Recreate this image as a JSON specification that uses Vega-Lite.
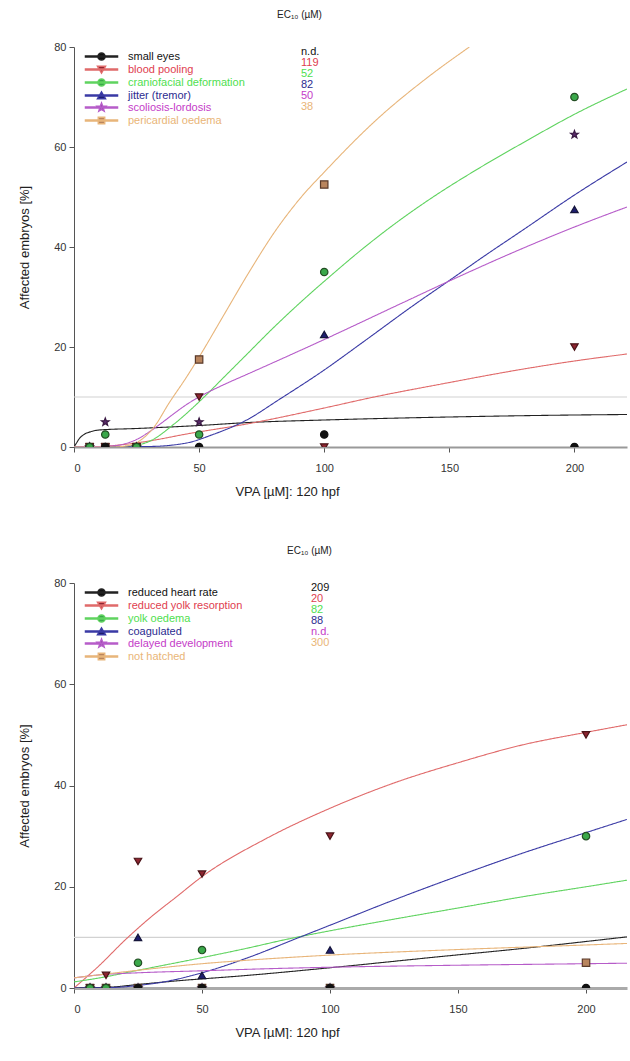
{
  "$schema": "https://vega.github.io/schema/vega-lite/v6.json",
  "background": "white",
  "padding": {"left": 18, "top": 10, "right": 0, "bottom": 0},
  "spacing": 48,
  "resolve": {
    "scale": {"color": "independent", "fill": "independent", "stroke": "independent", "strokeDash": "independent", "x": "independent", "y": "independent"},
    "legend": {"color": "independent", "strokeDash": "independent", "fill": "independent", "stroke": "independent"}
  },
  "config": {
    "font": "Liberation Sans",
    "view": {"stroke": null},
    "axis": {
      "grid": false,
      "labelFont": "Liberation Sans",
      "labelFontSize": 11,
      "labelColor": "#333333",
      "titleFont": "Liberation Sans",
      "titleFontSize": 13,
      "titleFontWeight": "normal",
      "titleColor": "#222222",
      "domainColor": "#555555",
      "tickColor": "#555555",
      "tickSize": 5
    },
    "legend": {
      "labelFont": "Liberation Sans",
      "labelFontSize": 11,
      "titleFont": "Liberation Sans",
      "titleFontSize": 10,
      "titleFontWeight": "normal",
      "titleColor": "#222222",
      "rowPadding": -2,
      "padding": 0
    }
  },
  "datasets": {
    "tmeta": [
      {"s": "small eyes", "ec": "n.d."},
      {"s": "blood pooling", "ec": "119"},
      {"s": "craniofacial deformation", "ec": "52"},
      {"s": "jitter (tremor)", "ec": "82"},
      {"s": "scoliosis-lordosis", "ec": "50"},
      {"s": "pericardial oedema", "ec": "38"}
    ],
    "bmeta": [
      {"s": "reduced heart rate", "ec": "209"},
      {"s": "reduced yolk resorption", "ec": "20"},
      {"s": "yolk oedema", "ec": "82"},
      {"s": "coagulated", "ec": "88"},
      {"s": "delayed development", "ec": "n.d."},
      {"s": "not hatched", "ec": "300"}
    ],
    "tfit": [
      {"s": "small eyes", "x": 0, "y": 0}, {"s": "small eyes", "x": 1, "y": 0.8}, {"s": "small eyes", "x": 2, "y": 1.6}, {"s": "small eyes", "x": 4, "y": 2.5}, {"s": "small eyes", "x": 7, "y": 3.1}, {"s": "small eyes", "x": 10, "y": 3.4}, {"s": "small eyes", "x": 25, "y": 3.7}, {"s": "small eyes", "x": 50, "y": 4.3}, {"s": "small eyes", "x": 70, "y": 4.9}, {"s": "small eyes", "x": 100, "y": 5.4}, {"s": "small eyes", "x": 150, "y": 6}, {"s": "small eyes", "x": 200, "y": 6.4}, {"s": "small eyes", "x": 221, "y": 6.5},
      {"s": "blood pooling", "x": 0, "y": 0}, {"s": "blood pooling", "x": 10, "y": 0.1}, {"s": "blood pooling", "x": 20, "y": 0.5}, {"s": "blood pooling", "x": 30, "y": 1.2}, {"s": "blood pooling", "x": 45, "y": 2.6}, {"s": "blood pooling", "x": 69, "y": 4.6}, {"s": "blood pooling", "x": 100, "y": 7.8}, {"s": "blood pooling", "x": 119, "y": 9.9}, {"s": "blood pooling", "x": 149, "y": 12.8}, {"s": "blood pooling", "x": 175, "y": 15.2}, {"s": "blood pooling", "x": 200, "y": 17.2}, {"s": "blood pooling", "x": 221, "y": 18.6},
      {"s": "craniofacial deformation", "x": 0, "y": 0}, {"s": "craniofacial deformation", "x": 15, "y": 0}, {"s": "craniofacial deformation", "x": 25, "y": 0.4}, {"s": "craniofacial deformation", "x": 30, "y": 1.1}, {"s": "craniofacial deformation", "x": 40, "y": 4.6}, {"s": "craniofacial deformation", "x": 52, "y": 10}, {"s": "craniofacial deformation", "x": 60, "y": 14}, {"s": "craniofacial deformation", "x": 69, "y": 18.5}, {"s": "craniofacial deformation", "x": 80, "y": 24}, {"s": "craniofacial deformation", "x": 94, "y": 30.5}, {"s": "craniofacial deformation", "x": 102, "y": 34}, {"s": "craniofacial deformation", "x": 115, "y": 39.5}, {"s": "craniofacial deformation", "x": 130, "y": 45.3}, {"s": "craniofacial deformation", "x": 145, "y": 50.5}, {"s": "craniofacial deformation", "x": 161, "y": 55.5}, {"s": "craniofacial deformation", "x": 180, "y": 61}, {"s": "craniofacial deformation", "x": 201, "y": 66.8}, {"s": "craniofacial deformation", "x": 221, "y": 71.6},
      {"s": "jitter (tremor)", "x": 0, "y": 0}, {"s": "jitter (tremor)", "x": 30, "y": 0.1}, {"s": "jitter (tremor)", "x": 45, "y": 0.8}, {"s": "jitter (tremor)", "x": 55, "y": 2.4}, {"s": "jitter (tremor)", "x": 69, "y": 5.4}, {"s": "jitter (tremor)", "x": 82, "y": 9.5}, {"s": "jitter (tremor)", "x": 100, "y": 15.4}, {"s": "jitter (tremor)", "x": 115, "y": 20.8}, {"s": "jitter (tremor)", "x": 137, "y": 28.8}, {"s": "jitter (tremor)", "x": 150, "y": 33.3}, {"s": "jitter (tremor)", "x": 164, "y": 38.2}, {"s": "jitter (tremor)", "x": 180, "y": 43.6}, {"s": "jitter (tremor)", "x": 200, "y": 50.4}, {"s": "jitter (tremor)", "x": 221, "y": 57},
      {"s": "scoliosis-lordosis", "x": 0, "y": 0}, {"s": "scoliosis-lordosis", "x": 15, "y": 0.2}, {"s": "scoliosis-lordosis", "x": 20, "y": 0.6}, {"s": "scoliosis-lordosis", "x": 25, "y": 1.5}, {"s": "scoliosis-lordosis", "x": 30, "y": 3}, {"s": "scoliosis-lordosis", "x": 35, "y": 4.8}, {"s": "scoliosis-lordosis", "x": 40, "y": 6.7}, {"s": "scoliosis-lordosis", "x": 45, "y": 8.5}, {"s": "scoliosis-lordosis", "x": 50, "y": 10}, {"s": "scoliosis-lordosis", "x": 60, "y": 12.5}, {"s": "scoliosis-lordosis", "x": 69, "y": 14.5}, {"s": "scoliosis-lordosis", "x": 100, "y": 21.5}, {"s": "scoliosis-lordosis", "x": 132, "y": 29}, {"s": "scoliosis-lordosis", "x": 150, "y": 33.2}, {"s": "scoliosis-lordosis", "x": 175, "y": 38.8}, {"s": "scoliosis-lordosis", "x": 200, "y": 44}, {"s": "scoliosis-lordosis", "x": 221, "y": 48},
      {"s": "pericardial oedema", "x": 0, "y": 0}, {"s": "pericardial oedema", "x": 15, "y": 0}, {"s": "pericardial oedema", "x": 22, "y": 0.3}, {"s": "pericardial oedema", "x": 27, "y": 1.5}, {"s": "pericardial oedema", "x": 32, "y": 4}, {"s": "pericardial oedema", "x": 38, "y": 8.8}, {"s": "pericardial oedema", "x": 45, "y": 14}, {"s": "pericardial oedema", "x": 50, "y": 18}, {"s": "pericardial oedema", "x": 60, "y": 26.5}, {"s": "pericardial oedema", "x": 70, "y": 35}, {"s": "pericardial oedema", "x": 81, "y": 43.6}, {"s": "pericardial oedema", "x": 90, "y": 49.5}, {"s": "pericardial oedema", "x": 101, "y": 55.5}, {"s": "pericardial oedema", "x": 121, "y": 65.5}, {"s": "pericardial oedema", "x": 141, "y": 73.8}, {"s": "pericardial oedema", "x": 158, "y": 80}
    ],
    "tpts": [
      {"p": "small eyes", "x": 6.25, "y": 0}, {"p": "small eyes", "x": 12.5, "y": 0}, {"p": "small eyes", "x": 25, "y": 0}, {"p": "small eyes", "x": 50, "y": 0}, {"p": "small eyes", "x": 100, "y": 2.5}, {"p": "small eyes", "x": 200, "y": 0},
      {"p": "pericardial oedema", "x": 6.25, "y": 0}, {"p": "pericardial oedema", "x": 12.5, "y": 0}, {"p": "pericardial oedema", "x": 25, "y": 0}, {"p": "pericardial oedema", "x": 50, "y": 17.5}, {"p": "pericardial oedema", "x": 100, "y": 52.5},
      {"p": "jitter (tremor)", "x": 6.25, "y": 0}, {"p": "jitter (tremor)", "x": 12.5, "y": 0}, {"p": "jitter (tremor)", "x": 25, "y": 0}, {"p": "jitter (tremor)", "x": 50, "y": 0}, {"p": "jitter (tremor)", "x": 100, "y": 22.5}, {"p": "jitter (tremor)", "x": 200, "y": 47.5},
      {"p": "scoliosis-lordosis", "x": 6.25, "y": 0}, {"p": "scoliosis-lordosis", "x": 12.5, "y": 5}, {"p": "scoliosis-lordosis", "x": 25, "y": 0}, {"p": "scoliosis-lordosis", "x": 50, "y": 5}, {"p": "scoliosis-lordosis", "x": 200, "y": 62.5},
      {"p": "blood pooling", "x": 6.25, "y": 0}, {"p": "blood pooling", "x": 12.5, "y": 0}, {"p": "blood pooling", "x": 25, "y": 0}, {"p": "blood pooling", "x": 50, "y": 10}, {"p": "blood pooling", "x": 100, "y": 0}, {"p": "blood pooling", "x": 200, "y": 20},
      {"p": "craniofacial deformation", "x": 6.25, "y": 0}, {"p": "craniofacial deformation", "x": 12.5, "y": 2.5}, {"p": "craniofacial deformation", "x": 25, "y": 0}, {"p": "craniofacial deformation", "x": 50, "y": 2.5}, {"p": "craniofacial deformation", "x": 100, "y": 35}, {"p": "craniofacial deformation", "x": 200, "y": 70}
    ],
    "bfit": [
      {"s": "reduced heart rate", "x": 0, "y": 0}, {"s": "reduced heart rate", "x": 15, "y": 0.2}, {"s": "reduced heart rate", "x": 25, "y": 0.7}, {"s": "reduced heart rate", "x": 40, "y": 1.4}, {"s": "reduced heart rate", "x": 68, "y": 2.5}, {"s": "reduced heart rate", "x": 100, "y": 4}, {"s": "reduced heart rate", "x": 143, "y": 6.2}, {"s": "reduced heart rate", "x": 175, "y": 7.8}, {"s": "reduced heart rate", "x": 209, "y": 9.7}, {"s": "reduced heart rate", "x": 216, "y": 10.1},
      {"s": "reduced yolk resorption", "x": 0, "y": 0}, {"s": "reduced yolk resorption", "x": 10, "y": 4.5}, {"s": "reduced yolk resorption", "x": 20, "y": 9.5}, {"s": "reduced yolk resorption", "x": 30, "y": 14}, {"s": "reduced yolk resorption", "x": 40, "y": 18}, {"s": "reduced yolk resorption", "x": 50, "y": 22}, {"s": "reduced yolk resorption", "x": 75, "y": 29.5}, {"s": "reduced yolk resorption", "x": 100, "y": 35.5}, {"s": "reduced yolk resorption", "x": 125, "y": 40.5}, {"s": "reduced yolk resorption", "x": 150, "y": 44.5}, {"s": "reduced yolk resorption", "x": 175, "y": 48}, {"s": "reduced yolk resorption", "x": 200, "y": 50.5}, {"s": "reduced yolk resorption", "x": 216, "y": 52},
      {"s": "yolk oedema", "x": 0, "y": 1.2}, {"s": "yolk oedema", "x": 10, "y": 2}, {"s": "yolk oedema", "x": 25, "y": 3.5}, {"s": "yolk oedema", "x": 50, "y": 6}, {"s": "yolk oedema", "x": 68, "y": 7.9}, {"s": "yolk oedema", "x": 82, "y": 9.5}, {"s": "yolk oedema", "x": 100, "y": 11.3}, {"s": "yolk oedema", "x": 125, "y": 13.6}, {"s": "yolk oedema", "x": 150, "y": 15.8}, {"s": "yolk oedema", "x": 175, "y": 18}, {"s": "yolk oedema", "x": 200, "y": 20}, {"s": "yolk oedema", "x": 216, "y": 21.3},
      {"s": "coagulated", "x": 0, "y": 0}, {"s": "coagulated", "x": 15, "y": 0.1}, {"s": "coagulated", "x": 25, "y": 0.5}, {"s": "coagulated", "x": 35, "y": 1.2}, {"s": "coagulated", "x": 50, "y": 3}, {"s": "coagulated", "x": 68, "y": 6}, {"s": "coagulated", "x": 88, "y": 10}, {"s": "coagulated", "x": 100, "y": 12.4}, {"s": "coagulated", "x": 125, "y": 17.4}, {"s": "coagulated", "x": 151, "y": 22.3}, {"s": "coagulated", "x": 175, "y": 26.6}, {"s": "coagulated", "x": 200, "y": 30.7}, {"s": "coagulated", "x": 216, "y": 33.3},
      {"s": "delayed development", "x": 0, "y": 2}, {"s": "delayed development", "x": 10, "y": 2.6}, {"s": "delayed development", "x": 25, "y": 3}, {"s": "delayed development", "x": 50, "y": 3.4}, {"s": "delayed development", "x": 75, "y": 3.8}, {"s": "delayed development", "x": 100, "y": 4.1}, {"s": "delayed development", "x": 150, "y": 4.5}, {"s": "delayed development", "x": 200, "y": 4.8}, {"s": "delayed development", "x": 216, "y": 4.9},
      {"s": "not hatched", "x": 0, "y": 2}, {"s": "not hatched", "x": 25, "y": 3.5}, {"s": "not hatched", "x": 50, "y": 4.8}, {"s": "not hatched", "x": 68, "y": 5.5}, {"s": "not hatched", "x": 100, "y": 6.5}, {"s": "not hatched", "x": 150, "y": 7.6}, {"s": "not hatched", "x": 200, "y": 8.5}, {"s": "not hatched", "x": 216, "y": 8.8}
    ],
    "bpts": [
      {"p": "reduced heart rate", "x": 6.25, "y": 0}, {"p": "reduced heart rate", "x": 12.5, "y": 0}, {"p": "reduced heart rate", "x": 25, "y": 0}, {"p": "reduced heart rate", "x": 50, "y": 0}, {"p": "reduced heart rate", "x": 100, "y": 0}, {"p": "reduced heart rate", "x": 200, "y": 0},
      {"p": "delayed development", "x": 6.25, "y": 0}, {"p": "delayed development", "x": 12.5, "y": 0}, {"p": "delayed development", "x": 25, "y": 0}, {"p": "delayed development", "x": 50, "y": 0}, {"p": "delayed development", "x": 100, "y": 0},
      {"p": "coagulated", "x": 6.25, "y": 0}, {"p": "coagulated", "x": 12.5, "y": 0}, {"p": "coagulated", "x": 25, "y": 10}, {"p": "coagulated", "x": 50, "y": 2.5}, {"p": "coagulated", "x": 100, "y": 7.5},
      {"p": "yolk oedema", "x": 6.25, "y": 0}, {"p": "yolk oedema", "x": 12.5, "y": 0}, {"p": "yolk oedema", "x": 25, "y": 5}, {"p": "yolk oedema", "x": 50, "y": 7.5}, {"p": "yolk oedema", "x": 200, "y": 30},
      {"p": "reduced yolk resorption", "x": 6.25, "y": 0}, {"p": "reduced yolk resorption", "x": 12.5, "y": 2.5}, {"p": "reduced yolk resorption", "x": 25, "y": 25}, {"p": "reduced yolk resorption", "x": 50, "y": 22.5}, {"p": "reduced yolk resorption", "x": 100, "y": 30}, {"p": "reduced yolk resorption", "x": 200, "y": 50},
      {"p": "not hatched", "x": 6.25, "y": 0}, {"p": "not hatched", "x": 12.5, "y": 0}, {"p": "not hatched", "x": 25, "y": 0}, {"p": "not hatched", "x": 50, "y": 0}, {"p": "not hatched", "x": 100, "y": 0}, {"p": "not hatched", "x": 200, "y": 5}
    ]
  },
  "vconcat": [
    {
      "width": 553,
      "height": 400,
      "layer": [
        {
          "data": {"values": [{"y": 10}]},
          "mark": {"type": "rule", "color": "#d2d2d2", "strokeWidth": 1.2},
          "encoding": {"y": {"field": "y", "type": "quantitative", "scale": {"domain": [0, 80], "nice": false}}}
        },
        {
          "data": {"name": "tfit"},
          "transform": [{"lookup": "s", "from": {"data": {"name": "tmeta"}, "key": "s", "fields": ["ec"]}}],
          "mark": {"type": "line", "interpolate": "monotone", "clip": true, "strokeWidth": 1.1},
          "encoding": {
            "x": {"field": "x", "type": "quantitative", "scale": {"domain": [0, 221], "nice": false},
                  "axis": {"values": [0, 50, 100, 150, 200], "title": "VPA [µM]: 120 hpf", "labelPadding": 10, "titlePadding": 12, "titleX": 213, "titleAlign": "center", "domainColor": "#999999", "domainWidth": 2}},
            "y": {"field": "y", "type": "quantitative", "scale": {"domain": [0, 80], "nice": false},
                  "axis": {"values": [0, 20, 40, 60, 80], "title": "Affected embryos [%]", "labelPadding": 3, "titlePadding": 22}},
            "color": {
              "field": "s", "type": "nominal",
              "scale": {"domain": ["small eyes", "blood pooling", "craniofacial deformation", "jitter (tremor)", "scoliosis-lordosis", "pericardial oedema"],
                        "range": ["#222222", "#e06a6a", "#5fd35f", "#3a3aa5", "#b65cc9", "#e8b57a"]},
              "legend": {
                "orient": "none", "legendX": 0, "legendY": 4, "title": null,
                "symbolSize": 64, "symbolOffset": 22, "labelOffset": 21,
                "encode": {
                  "symbols": {"update": {
                    "shape": {"signal": "['M-4,-0.14H4V0.14H-4ZM0.9,0A0.9,0.9,0,1,1,-0.9,0A0.9,0.9,0,1,1,0.9,0Z','M-4,-0.14H4V0.14H-4ZM-1,-0.8L1,-0.8L0,0.9Z','M-4,-0.14H4V0.14H-4ZM0.9,0A0.9,0.9,0,1,1,-0.9,0A0.9,0.9,0,1,1,0.9,0Z','M-4,-0.14H4V0.14H-4ZM1,0.8L-1,0.8L0,-0.9Z','M-4,-0.14H4V0.14H-4ZM0,-1.1L0.27,-0.37L1.05,-0.34L0.43,0.14L0.65,0.89L0,0.45L-0.65,0.89L-0.43,0.14L-1.05,-0.34L-0.27,-0.37Z','M-4,-0.14H4V0.14H-4ZM-0.8,-0.8H0.8V0.8H-0.8Z'][indexof(['small eyes','blood pooling','craniofacial deformation','jitter (tremor)','scoliosis-lordosis','pericardial oedema'], datum.value)]"},
                    "fill": {"signal": "['#222222','#e06a6a','#5fd35f','#3a3aa5','#b65cc9','#e8b57a'][indexof(['small eyes','blood pooling','craniofacial deformation','jitter (tremor)','scoliosis-lordosis','pericardial oedema'], datum.value)]"},
                    "opacity": {"value": 1}
                  }},
                  "labels": {"update": {
                    "fill": {"signal": "['#111111','#e0404f','#4fe04f','#2b2b8f','#c43cc8','#e9b577'][indexof(['small eyes','blood pooling','craniofacial deformation','jitter (tremor)','scoliosis-lordosis','pericardial oedema'], datum.value)]"}
                  }}
                }
              }
            },
            "strokeDash": {
              "field": "ec", "type": "nominal",
              "scale": {"domain": ["n.d.", "119", "52", "82", "50", "38"], "range": [[1, 0], [1, 0], [1, 0], [1, 0], [1, 0], [1, 0]]},
              "legend": {
                "orient": "none", "legendX": 203, "legendY": -37, "title": "EC₁₀ (µM)", "titlePadding": 26,
                "symbolOpacity": 0, "symbolSize": 0, "symbolStrokeWidth": 0, "labelOffset": 13,
                "encode": {"labels": {"update": {
                  "fill": {"signal": "['#111111','#e0404f','#4fe04f','#2b2b8f','#c43cc8','#e9b577'][indexof(['n.d.','119','52','82','50','38'], datum.value)]"}
                }}}
              }
            }
          }
        },
        {
          "data": {"name": "tpts"},
          "encoding": {
            "x": {"field": "x", "type": "quantitative"},
            "y": {"field": "y", "type": "quantitative"},
            "fill": {"field": "p", "type": "nominal", "legend": null,
              "scale": {"domain": ["small eyes", "blood pooling", "craniofacial deformation", "jitter (tremor)", "scoliosis-lordosis", "pericardial oedema"],
                        "range": ["#111111", "#8e2530", "#3aa84a", "#1e1e6e", "#5b2a6b", "#b9855e"]}},
            "stroke": {"field": "p", "type": "nominal", "legend": null,
              "scale": {"domain": ["small eyes", "blood pooling", "craniofacial deformation", "jitter (tremor)", "scoliosis-lordosis", "pericardial oedema"],
                        "range": ["#111111", "#4a1418", "#244d24", "#15153a", "#3a1a44", "#5a3a2a"]}}
          },
          "layer": [
            {"transform": [{"filter": {"field": "p", "equal": "pericardial oedema"}}], "mark": {"type": "point", "shape": "square", "filled": true, "size": 55, "strokeWidth": 1.2, "opacity": 1, "clip": true}},
            {"transform": [{"filter": {"field": "p", "equal": "scoliosis-lordosis"}}], "mark": {"type": "point", "shape": "M0,-1.1L0.27,-0.37L1.05,-0.34L0.43,0.14L0.65,0.89L0,0.45L-0.65,0.89L-0.43,0.14L-1.05,-0.34L-0.27,-0.37Z", "filled": true, "size": 55, "strokeWidth": 1.2, "opacity": 1, "clip": true}},
            {"transform": [{"filter": {"field": "p", "equal": "jitter (tremor)"}}], "mark": {"type": "point", "shape": "triangle-up", "filled": true, "size": 55, "strokeWidth": 1.2, "opacity": 1, "clip": true}},
            {"transform": [{"filter": {"field": "p", "equal": "blood pooling"}}], "mark": {"type": "point", "shape": "triangle-down", "filled": true, "size": 55, "strokeWidth": 1.2, "opacity": 1, "clip": true}},
            {"transform": [{"filter": {"field": "p", "oneOf": ["small eyes", "craniofacial deformation"]}}], "mark": {"type": "point", "shape": "circle", "filled": true, "size": 55, "strokeWidth": 1.2, "opacity": 1, "clip": true}}
          ]
        }
      ]
    },
    {
      "width": 553,
      "height": 405,
      "layer": [
        {
          "data": {"values": [{"y": 10}]},
          "mark": {"type": "rule", "color": "#d2d2d2", "strokeWidth": 1.2},
          "encoding": {"y": {"field": "y", "type": "quantitative", "scale": {"domain": [0, 80], "nice": false}}}
        },
        {
          "data": {"name": "bfit"},
          "transform": [{"lookup": "s", "from": {"data": {"name": "bmeta"}, "key": "s", "fields": ["ec"]}}],
          "mark": {"type": "line", "interpolate": "monotone", "clip": true, "strokeWidth": 1.1},
          "encoding": {
            "x": {"field": "x", "type": "quantitative", "scale": {"domain": [0, 216], "nice": false},
                  "axis": {"values": [0, 50, 100, 150, 200], "title": "VPA [µM]: 120 hpf", "labelPadding": 10, "titlePadding": 12, "titleX": 213, "titleAlign": "center", "domainColor": "#aaaaaa", "domainWidth": 3}},
            "y": {"field": "y", "type": "quantitative", "scale": {"domain": [0, 80], "nice": false},
                  "axis": {"values": [0, 20, 40, 60, 80], "title": "Affected embryos [%]", "labelPadding": 3, "titlePadding": 22}},
            "color": {
              "field": "s", "type": "nominal",
              "scale": {"domain": ["reduced heart rate", "reduced yolk resorption", "yolk oedema", "coagulated", "delayed development", "not hatched"],
                        "range": ["#222222", "#e06a6a", "#5fd35f", "#3a3aa5", "#b65cc9", "#e8b57a"]},
              "legend": {
                "orient": "none", "legendX": 0, "legendY": 4, "title": null,
                "symbolSize": 64, "symbolOffset": 22, "labelOffset": 21,
                "encode": {
                  "symbols": {"update": {
                    "shape": {"signal": "['M-4,-0.14H4V0.14H-4ZM0.9,0A0.9,0.9,0,1,1,-0.9,0A0.9,0.9,0,1,1,0.9,0Z','M-4,-0.14H4V0.14H-4ZM-1,-0.8L1,-0.8L0,0.9Z','M-4,-0.14H4V0.14H-4ZM0.9,0A0.9,0.9,0,1,1,-0.9,0A0.9,0.9,0,1,1,0.9,0Z','M-4,-0.14H4V0.14H-4ZM1,0.8L-1,0.8L0,-0.9Z','M-4,-0.14H4V0.14H-4ZM0,-1.1L0.27,-0.37L1.05,-0.34L0.43,0.14L0.65,0.89L0,0.45L-0.65,0.89L-0.43,0.14L-1.05,-0.34L-0.27,-0.37Z','M-4,-0.14H4V0.14H-4ZM-0.8,-0.8H0.8V0.8H-0.8Z'][indexof(['reduced heart rate','reduced yolk resorption','yolk oedema','coagulated','delayed development','not hatched'], datum.value)]"},
                    "fill": {"signal": "['#222222','#e06a6a','#5fd35f','#3a3aa5','#b65cc9','#e8b57a'][indexof(['reduced heart rate','reduced yolk resorption','yolk oedema','coagulated','delayed development','not hatched'], datum.value)]"},
                    "opacity": {"value": 1}
                  }},
                  "labels": {"update": {
                    "fill": {"signal": "['#111111','#e0404f','#4fe04f','#2b2b8f','#c43cc8','#e9b577'][indexof(['reduced heart rate','reduced yolk resorption','yolk oedema','coagulated','delayed development','not hatched'], datum.value)]"}
                  }}
                }
              }
            },
            "strokeDash": {
              "field": "ec", "type": "nominal",
              "scale": {"domain": ["209", "20", "82", "88", "n.d.", "300"], "range": [[1, 0], [1, 0], [1, 0], [1, 0], [1, 0], [1, 0]]},
              "legend": {
                "orient": "none", "legendX": 213, "legendY": -37, "title": "EC₁₀ (µM)", "titlePadding": 26,
                "symbolOpacity": 0, "symbolSize": 0, "symbolStrokeWidth": 0, "labelOffset": 13,
                "encode": {"labels": {"update": {
                  "fill": {"signal": "['#111111','#e0404f','#4fe04f','#2b2b8f','#c43cc8','#e9b577'][indexof(['209','20','82','88','n.d.','300'], datum.value)]"}
                }}}
              }
            }
          }
        },
        {
          "data": {"name": "bpts"},
          "encoding": {
            "x": {"field": "x", "type": "quantitative"},
            "y": {"field": "y", "type": "quantitative"},
            "fill": {"field": "p", "type": "nominal", "legend": null,
              "scale": {"domain": ["reduced heart rate", "reduced yolk resorption", "yolk oedema", "coagulated", "delayed development", "not hatched"],
                        "range": ["#111111", "#8e2530", "#3aa84a", "#1e1e6e", "#5b2a6b", "#b9855e"]}},
            "stroke": {"field": "p", "type": "nominal", "legend": null,
              "scale": {"domain": ["reduced heart rate", "reduced yolk resorption", "yolk oedema", "coagulated", "delayed development", "not hatched"],
                        "range": ["#111111", "#4a1418", "#244d24", "#15153a", "#3a1a44", "#5a3a2a"]}}
          },
          "layer": [
            {"transform": [{"filter": {"field": "p", "equal": "not hatched"}}], "mark": {"type": "point", "shape": "square", "filled": true, "size": 55, "strokeWidth": 1.2, "opacity": 1, "clip": true}},
            {"transform": [{"filter": {"field": "p", "equal": "delayed development"}}], "mark": {"type": "point", "shape": "M0,-1.1L0.27,-0.37L1.05,-0.34L0.43,0.14L0.65,0.89L0,0.45L-0.65,0.89L-0.43,0.14L-1.05,-0.34L-0.27,-0.37Z", "filled": true, "size": 55, "strokeWidth": 1.2, "opacity": 1, "clip": true}},
            {"transform": [{"filter": {"field": "p", "equal": "coagulated"}}], "mark": {"type": "point", "shape": "triangle-up", "filled": true, "size": 55, "strokeWidth": 1.2, "opacity": 1, "clip": true}},
            {"transform": [{"filter": {"field": "p", "equal": "reduced yolk resorption"}}], "mark": {"type": "point", "shape": "triangle-down", "filled": true, "size": 55, "strokeWidth": 1.2, "opacity": 1, "clip": true}},
            {"transform": [{"filter": {"field": "p", "oneOf": ["reduced heart rate", "yolk oedema"]}}], "mark": {"type": "point", "shape": "circle", "filled": true, "size": 55, "strokeWidth": 1.2, "opacity": 1, "clip": true}}
          ]
        }
      ]
    }
  ]
}
